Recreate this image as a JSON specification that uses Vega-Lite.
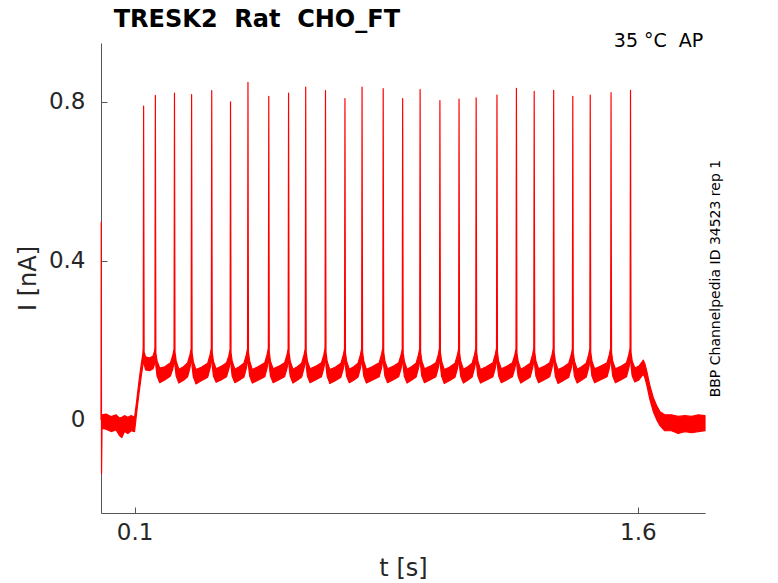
{
  "$schema": "https://vega.github.io/schema/vega-lite/v6.json",
  "width": 604,
  "height": 470,
  "autosize": {"type": "none"},
  "padding": {"left": 101, "top": 43, "right": 73, "bottom": 70},
  "data": {
    "values": [
      {"t": 0, "lo": 0, "hi": 0.01},
      {"t": 0.0008, "lo": 0.44, "hi": 0.497},
      {"t": 0.0016, "lo": -0.136, "hi": -0.1},
      {"t": 0.003, "lo": -0.022, "hi": 0.012},
      {"t": 0.015, "lo": -0.024, "hi": 0.014},
      {"t": 0.03, "lo": -0.03, "hi": 0.008},
      {"t": 0.045, "lo": -0.026, "hi": 0.012},
      {"t": 0.055, "lo": -0.04, "hi": 0.004},
      {"t": 0.062, "lo": -0.045, "hi": 0.006},
      {"t": 0.07, "lo": -0.03, "hi": 0.01},
      {"t": 0.08, "lo": -0.035, "hi": 0.006},
      {"t": 0.09, "lo": -0.028, "hi": 0.01},
      {"t": 0.1, "lo": -0.03, "hi": 0.006},
      {"t": 0.106, "lo": 0.015, "hi": 0.045},
      {"t": 0.113, "lo": 0.065, "hi": 0.095},
      {"t": 0.12, "lo": 0.11, "hi": 0.14},
      {"t": 0.1245, "lo": 0.135, "hi": 0.165},
      {"t": 0.1258, "lo": 0.15, "hi": 0.18},
      {"t": 0.127, "lo": 0.76, "hi": 0.789},
      {"t": 0.1285, "lo": 0.14, "hi": 0.17},
      {"t": 0.133, "lo": 0.125, "hi": 0.158},
      {"t": 0.145, "lo": 0.123, "hi": 0.155},
      {"t": 0.155, "lo": 0.128, "hi": 0.16},
      {"t": 0.1595, "lo": 0.14, "hi": 0.172},
      {"t": 0.1607, "lo": 0.15, "hi": 0.182},
      {"t": 0.162, "lo": 0.79, "hi": 0.816},
      {"t": 0.1635, "lo": 0.135, "hi": 0.168},
      {"t": 0.167, "lo": 0.11, "hi": 0.148},
      {"t": 0.175, "lo": 0.093, "hi": 0.13},
      {"t": 0.19, "lo": 0.1, "hi": 0.133},
      {"t": 0.207, "lo": 0.11, "hi": 0.143},
      {"t": 0.214, "lo": 0.128, "hi": 0.162},
      {"t": 0.2177, "lo": 0.145, "hi": 0.178},
      {"t": 0.219, "lo": 0.794, "hi": 0.822},
      {"t": 0.2205, "lo": 0.135, "hi": 0.17},
      {"t": 0.224, "lo": 0.11, "hi": 0.148},
      {"t": 0.232, "lo": 0.092, "hi": 0.127},
      {"t": 0.246, "lo": 0.099, "hi": 0.133},
      {"t": 0.258, "lo": 0.108, "hi": 0.143},
      {"t": 0.265, "lo": 0.13, "hi": 0.163},
      {"t": 0.2687, "lo": 0.146, "hi": 0.179},
      {"t": 0.27, "lo": 0.79, "hi": 0.818},
      {"t": 0.2715, "lo": 0.134, "hi": 0.169},
      {"t": 0.275, "lo": 0.108, "hi": 0.146},
      {"t": 0.283, "lo": 0.09, "hi": 0.126},
      {"t": 0.299, "lo": 0.098, "hi": 0.132},
      {"t": 0.318, "lo": 0.107, "hi": 0.142},
      {"t": 0.325, "lo": 0.129, "hi": 0.163},
      {"t": 0.3287, "lo": 0.147, "hi": 0.18},
      {"t": 0.33, "lo": 0.8, "hi": 0.828},
      {"t": 0.3315, "lo": 0.136, "hi": 0.17},
      {"t": 0.335, "lo": 0.11, "hi": 0.147},
      {"t": 0.343, "lo": 0.094, "hi": 0.128},
      {"t": 0.358, "lo": 0.1, "hi": 0.134},
      {"t": 0.374, "lo": 0.108, "hi": 0.143},
      {"t": 0.381, "lo": 0.128, "hi": 0.161},
      {"t": 0.3847, "lo": 0.144, "hi": 0.177},
      {"t": 0.386, "lo": 0.772, "hi": 0.8},
      {"t": 0.3875, "lo": 0.135, "hi": 0.169},
      {"t": 0.391, "lo": 0.109, "hi": 0.147},
      {"t": 0.399, "lo": 0.093, "hi": 0.127},
      {"t": 0.412, "lo": 0.099, "hi": 0.133},
      {"t": 0.426, "lo": 0.107, "hi": 0.142},
      {"t": 0.433, "lo": 0.129, "hi": 0.163},
      {"t": 0.4367, "lo": 0.146, "hi": 0.179},
      {"t": 0.438, "lo": 0.82, "hi": 0.849},
      {"t": 0.4395, "lo": 0.136, "hi": 0.17},
      {"t": 0.443, "lo": 0.11, "hi": 0.148},
      {"t": 0.451, "lo": 0.092, "hi": 0.126},
      {"t": 0.468, "lo": 0.099, "hi": 0.133},
      {"t": 0.488, "lo": 0.108, "hi": 0.143},
      {"t": 0.495, "lo": 0.13, "hi": 0.164},
      {"t": 0.4987, "lo": 0.147, "hi": 0.18},
      {"t": 0.5, "lo": 0.786, "hi": 0.814},
      {"t": 0.5015, "lo": 0.135, "hi": 0.17},
      {"t": 0.505, "lo": 0.11, "hi": 0.147},
      {"t": 0.513, "lo": 0.093, "hi": 0.128},
      {"t": 0.529, "lo": 0.1, "hi": 0.134},
      {"t": 0.547, "lo": 0.108, "hi": 0.143},
      {"t": 0.554, "lo": 0.128, "hi": 0.162},
      {"t": 0.5577, "lo": 0.145, "hi": 0.178},
      {"t": 0.559, "lo": 0.794, "hi": 0.822},
      {"t": 0.5605, "lo": 0.134, "hi": 0.169},
      {"t": 0.564, "lo": 0.109, "hi": 0.147},
      {"t": 0.572, "lo": 0.092, "hi": 0.127},
      {"t": 0.585, "lo": 0.099, "hi": 0.133},
      {"t": 0.598, "lo": 0.107, "hi": 0.142},
      {"t": 0.605, "lo": 0.129, "hi": 0.163},
      {"t": 0.6087, "lo": 0.146, "hi": 0.179},
      {"t": 0.61, "lo": 0.808, "hi": 0.837},
      {"t": 0.6115, "lo": 0.136, "hi": 0.17},
      {"t": 0.615, "lo": 0.11, "hi": 0.148},
      {"t": 0.623, "lo": 0.093, "hi": 0.128},
      {"t": 0.639, "lo": 0.1, "hi": 0.134},
      {"t": 0.657, "lo": 0.108, "hi": 0.143},
      {"t": 0.664, "lo": 0.13, "hi": 0.163},
      {"t": 0.6677, "lo": 0.147, "hi": 0.18},
      {"t": 0.669, "lo": 0.8, "hi": 0.828},
      {"t": 0.6705, "lo": 0.135, "hi": 0.17},
      {"t": 0.674, "lo": 0.109, "hi": 0.147},
      {"t": 0.682, "lo": 0.091, "hi": 0.126},
      {"t": 0.698, "lo": 0.098, "hi": 0.132},
      {"t": 0.715, "lo": 0.107, "hi": 0.142},
      {"t": 0.722, "lo": 0.128, "hi": 0.162},
      {"t": 0.7257, "lo": 0.145, "hi": 0.178},
      {"t": 0.727, "lo": 0.78, "hi": 0.808},
      {"t": 0.7285, "lo": 0.134, "hi": 0.169},
      {"t": 0.732, "lo": 0.109, "hi": 0.147},
      {"t": 0.74, "lo": 0.093, "hi": 0.127},
      {"t": 0.753, "lo": 0.099, "hi": 0.133},
      {"t": 0.766, "lo": 0.107, "hi": 0.142},
      {"t": 0.773, "lo": 0.129, "hi": 0.163},
      {"t": 0.7767, "lo": 0.146, "hi": 0.179},
      {"t": 0.778, "lo": 0.808, "hi": 0.837},
      {"t": 0.7795, "lo": 0.136, "hi": 0.17},
      {"t": 0.783, "lo": 0.11, "hi": 0.148},
      {"t": 0.791, "lo": 0.092, "hi": 0.127},
      {"t": 0.808, "lo": 0.099, "hi": 0.133},
      {"t": 0.829, "lo": 0.108, "hi": 0.143},
      {"t": 0.836, "lo": 0.13, "hi": 0.164},
      {"t": 0.8397, "lo": 0.147, "hi": 0.18},
      {"t": 0.841, "lo": 0.805, "hi": 0.833},
      {"t": 0.8425, "lo": 0.135, "hi": 0.17},
      {"t": 0.846, "lo": 0.11, "hi": 0.147},
      {"t": 0.854, "lo": 0.093, "hi": 0.128},
      {"t": 0.87, "lo": 0.1, "hi": 0.134},
      {"t": 0.887, "lo": 0.108, "hi": 0.143},
      {"t": 0.894, "lo": 0.128, "hi": 0.162},
      {"t": 0.8977, "lo": 0.145, "hi": 0.178},
      {"t": 0.899, "lo": 0.78, "hi": 0.808},
      {"t": 0.9005, "lo": 0.134, "hi": 0.169},
      {"t": 0.904, "lo": 0.109, "hi": 0.147},
      {"t": 0.912, "lo": 0.092, "hi": 0.127},
      {"t": 0.925, "lo": 0.099, "hi": 0.133},
      {"t": 0.939, "lo": 0.107, "hi": 0.142},
      {"t": 0.946, "lo": 0.129, "hi": 0.163},
      {"t": 0.9497, "lo": 0.146, "hi": 0.179},
      {"t": 0.951, "lo": 0.803, "hi": 0.831},
      {"t": 0.9525, "lo": 0.136, "hi": 0.17},
      {"t": 0.956, "lo": 0.11, "hi": 0.148},
      {"t": 0.964, "lo": 0.093, "hi": 0.128},
      {"t": 0.98, "lo": 0.1, "hi": 0.134},
      {"t": 0.998, "lo": 0.108, "hi": 0.143},
      {"t": 1.005, "lo": 0.13, "hi": 0.163},
      {"t": 1.0087, "lo": 0.147, "hi": 0.18},
      {"t": 1.01, "lo": 0.775, "hi": 0.803},
      {"t": 1.0115, "lo": 0.135, "hi": 0.17},
      {"t": 1.015, "lo": 0.109, "hi": 0.147},
      {"t": 1.023, "lo": 0.091, "hi": 0.126},
      {"t": 1.038, "lo": 0.098, "hi": 0.132},
      {"t": 1.055, "lo": 0.107, "hi": 0.142},
      {"t": 1.062, "lo": 0.128, "hi": 0.162},
      {"t": 1.0657, "lo": 0.145, "hi": 0.178},
      {"t": 1.067, "lo": 0.779, "hi": 0.807},
      {"t": 1.0685, "lo": 0.134, "hi": 0.169},
      {"t": 1.072, "lo": 0.109, "hi": 0.147},
      {"t": 1.08, "lo": 0.092, "hi": 0.127},
      {"t": 1.093, "lo": 0.099, "hi": 0.133},
      {"t": 1.106, "lo": 0.107, "hi": 0.142},
      {"t": 1.113, "lo": 0.129, "hi": 0.163},
      {"t": 1.1167, "lo": 0.146, "hi": 0.179},
      {"t": 1.118, "lo": 0.782, "hi": 0.81},
      {"t": 1.1195, "lo": 0.136, "hi": 0.17},
      {"t": 1.123, "lo": 0.11, "hi": 0.148},
      {"t": 1.131, "lo": 0.092, "hi": 0.126},
      {"t": 1.148, "lo": 0.099, "hi": 0.133},
      {"t": 1.168, "lo": 0.108, "hi": 0.143},
      {"t": 1.175, "lo": 0.13, "hi": 0.164},
      {"t": 1.1787, "lo": 0.147, "hi": 0.18},
      {"t": 1.18, "lo": 0.789, "hi": 0.817},
      {"t": 1.1815, "lo": 0.135, "hi": 0.17},
      {"t": 1.185, "lo": 0.11, "hi": 0.147},
      {"t": 1.193, "lo": 0.093, "hi": 0.128},
      {"t": 1.209, "lo": 0.1, "hi": 0.134},
      {"t": 1.226, "lo": 0.108, "hi": 0.143},
      {"t": 1.233, "lo": 0.128, "hi": 0.162},
      {"t": 1.2367, "lo": 0.145, "hi": 0.178},
      {"t": 1.238, "lo": 0.806, "hi": 0.834},
      {"t": 1.2395, "lo": 0.134, "hi": 0.169},
      {"t": 1.243, "lo": 0.109, "hi": 0.147},
      {"t": 1.251, "lo": 0.092, "hi": 0.127},
      {"t": 1.264, "lo": 0.099, "hi": 0.133},
      {"t": 1.279, "lo": 0.107, "hi": 0.142},
      {"t": 1.286, "lo": 0.129, "hi": 0.163},
      {"t": 1.2897, "lo": 0.146, "hi": 0.179},
      {"t": 1.291, "lo": 0.798, "hi": 0.826},
      {"t": 1.2925, "lo": 0.136, "hi": 0.17},
      {"t": 1.296, "lo": 0.11, "hi": 0.148},
      {"t": 1.304, "lo": 0.093, "hi": 0.128},
      {"t": 1.32, "lo": 0.1, "hi": 0.134},
      {"t": 1.337, "lo": 0.108, "hi": 0.143},
      {"t": 1.344, "lo": 0.13, "hi": 0.163},
      {"t": 1.3477, "lo": 0.147, "hi": 0.18},
      {"t": 1.349, "lo": 0.801, "hi": 0.829},
      {"t": 1.3505, "lo": 0.135, "hi": 0.17},
      {"t": 1.354, "lo": 0.109, "hi": 0.147},
      {"t": 1.362, "lo": 0.091, "hi": 0.126},
      {"t": 1.377, "lo": 0.098, "hi": 0.132},
      {"t": 1.394, "lo": 0.107, "hi": 0.142},
      {"t": 1.401, "lo": 0.128, "hi": 0.162},
      {"t": 1.4047, "lo": 0.145, "hi": 0.178},
      {"t": 1.406, "lo": 0.786, "hi": 0.814},
      {"t": 1.4075, "lo": 0.134, "hi": 0.169},
      {"t": 1.411, "lo": 0.109, "hi": 0.147},
      {"t": 1.419, "lo": 0.092, "hi": 0.127},
      {"t": 1.432, "lo": 0.099, "hi": 0.133},
      {"t": 1.446, "lo": 0.107, "hi": 0.142},
      {"t": 1.453, "lo": 0.129, "hi": 0.163},
      {"t": 1.4567, "lo": 0.146, "hi": 0.179},
      {"t": 1.458, "lo": 0.789, "hi": 0.817},
      {"t": 1.4595, "lo": 0.136, "hi": 0.17},
      {"t": 1.463, "lo": 0.11, "hi": 0.148},
      {"t": 1.471, "lo": 0.093, "hi": 0.128},
      {"t": 1.488, "lo": 0.1, "hi": 0.134},
      {"t": 1.508, "lo": 0.108, "hi": 0.143},
      {"t": 1.515, "lo": 0.13, "hi": 0.164},
      {"t": 1.5187, "lo": 0.147, "hi": 0.18},
      {"t": 1.52, "lo": 0.795, "hi": 0.823},
      {"t": 1.5215, "lo": 0.135, "hi": 0.17},
      {"t": 1.525, "lo": 0.11, "hi": 0.147},
      {"t": 1.533, "lo": 0.093, "hi": 0.128},
      {"t": 1.549, "lo": 0.1, "hi": 0.134},
      {"t": 1.566, "lo": 0.108, "hi": 0.143},
      {"t": 1.573, "lo": 0.13, "hi": 0.164},
      {"t": 1.5767, "lo": 0.147, "hi": 0.18},
      {"t": 1.578, "lo": 0.801, "hi": 0.829},
      {"t": 1.5795, "lo": 0.136, "hi": 0.17},
      {"t": 1.583, "lo": 0.11, "hi": 0.148},
      {"t": 1.591, "lo": 0.095, "hi": 0.13},
      {"t": 1.603, "lo": 0.1, "hi": 0.135},
      {"t": 1.612, "lo": 0.11, "hi": 0.145},
      {"t": 1.616, "lo": 0.115, "hi": 0.15},
      {"t": 1.621, "lo": 0.105, "hi": 0.14},
      {"t": 1.627, "lo": 0.085, "hi": 0.12},
      {"t": 1.636, "lo": 0.05, "hi": 0.085},
      {"t": 1.646, "lo": 0.02, "hi": 0.055},
      {"t": 1.656, "lo": 0.0, "hi": 0.035},
      {"t": 1.666, "lo": -0.015, "hi": 0.02},
      {"t": 1.68, "lo": -0.028, "hi": 0.012},
      {"t": 1.7, "lo": -0.028, "hi": 0.012},
      {"t": 1.72, "lo": -0.035, "hi": 0.008},
      {"t": 1.74, "lo": -0.03, "hi": 0.01},
      {"t": 1.76, "lo": -0.033, "hi": 0.008},
      {"t": 1.78, "lo": -0.03, "hi": 0.012},
      {"t": 1.8, "lo": -0.028, "hi": 0.01}
    ]
  },
  "encoding": {
    "x": {
      "type": "quantitative",
      "scale": {"domain": [0, 1.8], "nice": false, "zero": false},
      "axis": {
        "title": "t [s]",
        "values": [0.1, 1.6],
        "format": ".1f",
        "grid": false,
        "tickSize": -6,
        "labelPadding": 14,
        "titlePadding": 12
      }
    },
    "y": {
      "type": "quantitative",
      "scale": {"domain": [-0.235, 0.948], "nice": false, "zero": false},
      "axis": {
        "title": "I [nA]",
        "values": [0, 0.4, 0.8],
        "format": ".1~f",
        "grid": false,
        "tickSize": -6,
        "labelPadding": 22,
        "titlePadding": 8
      }
    }
  },
  "layer": [
    {
      "mark": {
        "type": "area",
        "color": "#ff0000",
        "stroke": "#ff0000",
        "strokeWidth": 1.2,
        "strokeJoin": "round",
        "opacity": 1
      },
      "encoding": {
        "x": {"field": "t"},
        "y": {"field": "lo"},
        "y2": {"field": "hi"}
      }
    },
    {
      "data": {"values": [{"label": "TRESK2\u00a0 Rat\u00a0 CHO_FT"}]},
      "mark": {
        "type": "text",
        "align": "left",
        "baseline": "alphabetic",
        "font": "DejaVu Sans",
        "fontSize": 24,
        "fontWeight": "bold",
        "color": "#000000"
      },
      "encoding": {
        "x": {"datum": 0.038},
        "y": {"datum": 0.988},
        "text": {"field": "label"}
      }
    },
    {
      "data": {"values": [{"label": "35 °C\u00a0 AP"}]},
      "mark": {
        "type": "text",
        "align": "right",
        "baseline": "middle",
        "font": "DejaVu Sans",
        "fontSize": 19,
        "color": "#000000"
      },
      "encoding": {
        "x": {"datum": 1.795},
        "y": {"datum": 0.952},
        "text": {"field": "label"}
      }
    },
    {
      "data": {"values": [{"label": "BBP Channelpedia ID 34523 rep 1"}]},
      "mark": {
        "type": "text",
        "align": "center",
        "baseline": "middle",
        "angle": 270,
        "font": "DejaVu Sans",
        "fontSize": 14,
        "color": "#000000"
      },
      "encoding": {
        "x": {"datum": 1.833},
        "y": {"datum": 0.355},
        "text": {"field": "label"}
      }
    }
  ],
  "config": {
    "view": {"stroke": null},
    "axis": {
      "domainColor": "#555555",
      "tickColor": "#555555",
      "labelColor": "#262626",
      "titleColor": "#262626",
      "labelFont": "DejaVu Sans",
      "titleFont": "DejaVu Sans",
      "labelFontSize": 23,
      "titleFontSize": 24,
      "titleFontWeight": "normal",
      "domainWidth": 1,
      "tickWidth": 1
    }
  }
}
